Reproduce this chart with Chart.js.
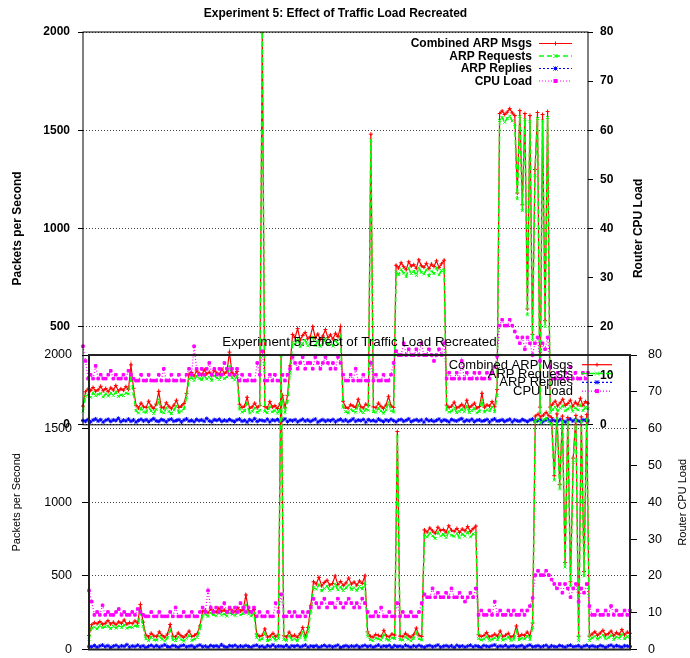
<!DOCTYPE html>
<html>
<head>
<meta charset="utf-8">
<script src="https://cdn.jsdelivr.net/npm/chart.js@4.4.1/dist/chart.umd.min.js"></script>
<style>
    html, body { margin: 0; padding: 0; background: #fff; width: 690px; height: 658px; overflow: hidden; }
    #wrap { position: relative; width: 690px; height: 658px; overflow: hidden; }
    #topChart { position: absolute; left: 0; top: 0; }
    /* second copy of the plot, laid over the lower part of the first */
    #lowChart { position: absolute; left: 0; top: 328px; }
</style>
</head>
<body>
<div id="wrap">
    <canvas id="topChart" width="690" height="440"></canvas>
    <canvas id="lowChart" width="690" height="340"></canvas>
</div>
<script>
const seriesNames = ['Combined ARP Msgs', 'ARP Requests', 'ARP Replies', 'CPU Load'];
const seriesColors = ['#ff0000', '#00ff00', '#0000ff', '#ff00ff'];

// packets per second, one value per sample
const combined = [
    95,
    168, 182, 175, 190, 171, 178, 196, 173, 185, 169, 188, 177, 200, 172, 183, 176, 194, 180, 305, 186,
    98, 85, 110, 92, 88, 120, 95, 83, 105, 170, 90, 86, 112, 94, 82, 100, 125, 88, 96, 108, 160,
    258, 266, 249, 275, 262, 254, 280, 259, 268, 251, 277, 263, 256, 284, 261, 270, 370, 265, 252, 272,
    105, 88, 96, 140, 84, 92, 110, 87, 99, 2000, 93, 85, 118, 90, 97, 83, 106, 150, 89, 150, 300,
    460, 445, 490, 432, 455, 470, 438, 448, 500, 441, 462, 435, 452, 485, 444, 458, 437, 466, 449, 500,
    120, 90, 84, 102, 95, 88, 130, 92, 86, 105, 98, 1480, 91, 87, 110, 94, 83, 100, 145, 96, 89,
    812, 798, 825, 805, 790, 830, 808, 815, 797, 840, 810, 802, 822, 795, 818, 806, 835, 800, 820, 838,
    100, 88, 95, 115, 86, 92, 104, 90, 125, 87, 97, 110, 85, 93, 160, 89, 101, 95, 118, 92, 180,
    1585, 1598, 1580, 1592, 1610, 1588, 1575,
    1180, 1600, 1120, 1585, 590, 1575, 460, 1300, 1590, 90, 1580, 530, 1595,
    90, 105, 120, 96, 112, 130, 98, 108, 125, 94, 115, 102, 135, 99, 118, 110
];

const requests = [
    70,
    145, 152, 140, 163, 148, 155, 160, 142, 158, 146, 161, 150, 166, 144, 153, 149, 162, 157, 250, 158,
    72, 60, 84, 66, 63, 90, 70, 58, 79, 130, 65, 61, 86, 68, 57, 75, 95, 62, 70, 82, 140,
    232, 240, 225, 248, 236, 229, 252, 233, 242, 226, 250, 238, 231, 256, 235, 244, 300, 240, 228, 246,
    80, 64, 72, 110, 60, 68, 85, 63, 74, 2000, 69, 61, 92, 66, 73, 59, 81, 120, 65, 120, 260,
    420, 410, 440, 398, 415, 430, 402, 412, 445, 405, 425, 400, 418, 438, 408, 420, 401, 428, 412, 450,
    90, 67, 60, 78, 71, 64, 100, 69, 62, 80, 74, 1450, 67, 63, 85, 70, 59, 76, 115, 72, 65,
    780, 765, 790, 772, 755, 795, 770, 782, 760, 800, 776, 768, 788, 758, 783, 770, 798, 764, 785, 790,
    75, 64, 70, 88, 62, 68, 80, 66, 96, 63, 72, 84, 61, 69, 125, 65, 77, 71, 90, 68, 150,
    1550, 1565, 1540, 1560, 1572, 1548, 1530,
    1150, 1570, 1090, 1555, 560, 1545, 430, 1270, 1560, 60, 1550, 500, 1565,
    62, 78, 90, 70, 84, 98, 72, 80, 95, 68, 86, 76, 102, 73, 88, 82
];

const replies = [
    22, 18, 27, 15, 24, 30, 19, 26, 14, 23, 28, 17, 25, 21, 33, 16, 24, 20, 29, 18,
    25, 14, 22, 28, 19, 26, 16, 24, 31, 20, 17, 27, 23, 15, 25, 29, 18, 22, 26, 14,
    24, 30, 19, 23, 16, 27, 21, 25, 18, 32, 20, 15, 26, 22, 28, 17, 24, 19, 27, 21,
    16, 25, 29, 18, 23, 14, 26, 20, 31, 17, 24, 22, 19, 28, 15, 25, 21, 27, 18, 23,
    30, 16, 24, 20, 26, 15, 22, 28, 19, 25, 17, 23, 29, 14, 21, 26, 18, 24, 20, 27,
    15, 23, 28, 19, 25, 16, 22, 30, 18, 24, 21, 27, 14, 26, 20, 23, 17, 29, 22, 16,
    25, 19, 28, 21, 15, 24, 27, 18, 23, 30, 16, 22, 26, 19, 25, 14, 28, 20, 24, 17,
    23, 29, 18, 25, 21, 15, 27, 22, 19, 26, 31, 17, 24, 20, 28, 16, 23, 25, 18, 22,
    27, 14, 24, 30, 19, 21, 26, 17, 23, 28, 15, 25, 20, 18, 27, 22, 16, 24, 29, 19,
    21, 26, 15, 23, 28, 18, 25, 20, 17, 27, 22, 14, 24, 29, 19, 26, 21, 16, 25, 23, 20
];

// router CPU load (right axis)
const cpuLoad = [
    16,
    13, 9.4, 10.2, 9.4, 12, 9.4, 10.2, 9.4, 9.4, 10.2, 11, 9.4, 10.2, 9.4, 9.4, 10.2, 9.4, 11, 10.2, 9.4,
    9, 9, 10.2, 9, 9, 10.2, 9, 9, 9, 10.2, 9, 11.4, 9, 9, 10.2, 9, 9, 10.2, 9, 9, 10.2,
    11.4, 10.2, 16, 11.4, 10.2, 11.4, 10.2, 11.4, 12.6, 10.2, 11.4, 10.2, 11.4, 10.2, 12.6, 11.4, 10.2, 11.4, 10.2, 11.4,
    9, 10.2, 9, 9, 10.2, 9, 9, 12.6, 10.2, 15, 9, 9, 10.2, 9, 10.2, 9, 9, 10.2, 9, 10.2, 11.4,
    13.8, 12.6, 11.4, 12.6, 13.8, 11.4, 12.6, 12.6, 11.4, 13.8, 12.6, 11.4, 12.6, 13.8, 12.6, 11.4, 12.6, 11.4, 13.8, 12.6,
    10.2, 9, 9, 10.2, 9, 11.4, 9, 9, 10.2, 9, 9, 12.6, 9, 10.2, 9, 9, 10.2, 9, 9, 10.2, 12.6,
    15, 14.2, 14.2, 16.6, 14.2, 15.4, 14.2, 14.2, 15.4, 14.2, 16.6, 14.2, 14.2, 15.4, 14.2, 13, 14.2, 15.4, 14.2, 16.6,
    9.4, 10.6, 9.4, 9.4, 10.6, 9.4, 13, 9.4, 10.6, 9.4, 9.4, 10.6, 9.4, 10.6, 9.4, 9.4, 10.6, 9.4, 10.6, 11.8, 14,
    20.2, 21.4, 20.2, 20.2, 21.4, 20.2, 19,
    17.8, 16.6, 17.8, 15.4, 17.8, 16.6, 14.2, 16.6, 17.8, 13, 16.6, 15.4, 17.8,
    11.8, 9.4, 9.4, 10.6, 9.4, 9.4, 10.6, 9.4, 11.8, 9.4, 10.6, 9.4, 9.4, 10.6, 9.4, 10.6
];

const steps = combined.map((_, i) => i);
const FAMILY = '"Liberation Sans", Arial, Helvetica, sans-serif';

function makeDatasets(lw) {
    const values = [combined, requests, replies, cpuLoad];
    const dashes = [[], [5, 3], [2, 2], [1, 2]];
    const widths = [lw, lw + 0.4, lw, lw];
    const marks = ['cross', 'crossRot', 'star', 'rect'];
    return values.map((v, i) => ({
        label: seriesNames[i],
        data: v,
        yAxisID: i === 3 ? 'y2' : 'y',
        borderColor: seriesColors[i],
        backgroundColor: seriesColors[i],
        borderWidth: widths[i],
        borderDash: dashes[i],
        pointStyle: marks[i],
        pointRadius: i === 3 ? 1.8 : 2,
        pointBorderWidth: 1,
        pointBorderColor: seriesColors[i],
        pointBackgroundColor: seriesColors[i],
        tension: 0,
        fill: false,
        order: 4 - i   // green over red, magenta on top, like gnuplot
    }));
}

function axes(o) {
    const font = { family: FAMILY, size: o.size, weight: o.weight };
    return {
        x: { display: false },
        y: {
            min: 0, max: 2000,
            ticks: { stepSize: 500, color: '#000', font, padding: o.padL, callback: v => String(v) },
            grid: { color: '#444', tickColor: '#000', tickLength: o.tick, tickBorderDash: [] },
            border: { display: false, dash: [1, 2] },
            afterFit: s => { s.width = o.left; }
        },
        y2: {
            position: 'right',
            min: 0, max: 80,
            ticks: { stepSize: 10, color: '#000', font, padding: o.padR, callback: v => String(v) },
            grid: { drawOnChartArea: false, color: '#000', tickLength: o.tick },
            border: { display: false },
            afterFit: s => { s.width = o.right; }
        }
    };
}

function mark(ctx, style, x, y, r) {
    if (style === 'rect') { ctx.fillRect(x - r, y - r, 2 * r, 2 * r); return; }
    ctx.beginPath();
    if (style === 'cross' || style === 'star') {
        ctx.moveTo(x - r, y); ctx.lineTo(x + r, y);
        ctx.moveTo(x, y - r); ctx.lineTo(x, y + r);
    }
    if (style === 'crossRot' || style === 'star') {
        ctx.moveTo(x - r, y - r); ctx.lineTo(x + r, y + r);
        ctx.moveTo(x - r, y + r); ctx.lineTo(x + r, y - r);
    }
    ctx.stroke();
}

// frame, title, axis titles and gnuplot-style key
function decor(o) {
    return {
        id: 'decor',
        afterDatasetsDraw(chart) {
            const { ctx, chartArea: a } = chart;
            ctx.save();
            ctx.strokeStyle = o.frameColor;
            ctx.lineWidth = o.frameWidth;
            ctx.strokeRect(a.left, a.top, a.right - a.left, a.bottom - a.top);
            ctx.restore();
        },
        afterDraw(chart) {
            const { ctx, chartArea: a } = chart;
            ctx.save();
            ctx.fillStyle = '#000';
            ctx.textAlign = 'center';
            ctx.textBaseline = 'alphabetic';
            ctx.font = o.titleFont;
            ctx.fillText('Experiment 5: Effect of Traffic Load Recreated', (a.left + a.right) / 2, o.titleY);

            ctx.font = o.axisFont;
            const midY = (a.top + a.bottom) / 2;
            [[o.leftTitleX, 'Packets per Second'], [o.rightTitleX, 'Router CPU Load']].forEach(([x, t]) => {
                ctx.save();
                ctx.translate(x, midY);
                ctx.rotate(-Math.PI / 2);
                ctx.textBaseline = 'middle';
                ctx.fillText(t, 0, 0);
                ctx.restore();
            });

            ctx.font = o.keyFont;
            ctx.textAlign = 'right';
            chart.data.datasets.forEach((ds, i) => {
                const y = o.keyY + i * o.keyStep;
                ctx.fillStyle = '#000';
                ctx.fillText(ds.label, o.keyTextX, y);
                const ly = y - o.keyLift;
                ctx.strokeStyle = ds.borderColor;
                ctx.fillStyle = ds.borderColor;
                ctx.lineWidth = ds.borderWidth;
                ctx.setLineDash(ds.borderDash);
                ctx.beginPath();
                ctx.moveTo(o.keyX0, ly);
                ctx.lineTo(o.keyX1, ly);
                ctx.stroke();
                ctx.setLineDash([]);
                ctx.lineWidth = 1;
                mark(ctx, ds.pointStyle, (o.keyX0 + o.keyX1) / 2, ly, 2);
            });
            ctx.restore();
        }
    };
}

function build(id, o) {
    return new Chart(document.getElementById(id), {
        type: 'line',
        data: { labels: steps, datasets: makeDatasets(o.lw) },
        options: {
            responsive: false,
            animation: false,
            events: [],
            layout: { padding: { top: o.padTop, bottom: o.padBottom, left: 0, right: 0 } },
            plugins: { legend: { display: false }, title: { display: false }, tooltip: { enabled: false } },
            scales: axes(o)
        },
        plugins: [decor(o)]
    });
}

// original plot (bold text)
build('topChart', {
    lw: 1.2, size: 12, weight: 'bold', left: 83, right: 102, tick: 5, padL: 8, padR: 7,
    padTop: 32, padBottom: 13,
    frameColor: '#000', frameWidth: 1,
    titleFont: 'bold 12px ' + FAMILY, axisFont: 'bold 12px ' + FAMILY, keyFont: 'bold 12px ' + FAMILY,
    titleY: 17, leftTitleX: 18, rightTitleX: 639,
    keyY: 47, keyStep: 12.5, keyLift: 3.5, keyTextX: 532, keyX0: 539, keyX1: 572
});

// recreated plot drawn over it (regular text)
build('lowChart', {
    lw: 1.2, size: 12.5, weight: 'normal', left: 89, right: 60, tick: 7, padL: 10, padR: 11,
    padTop: 27, padBottom: 13,
    frameColor: '#222', frameWidth: 2,
    titleFont: '13.4px ' + FAMILY, axisFont: '11px ' + FAMILY, keyFont: '13px ' + FAMILY,
    titleY: 17.7, leftTitleX: 17, rightTitleX: 683,
    keyY: 40.7, keyStep: 8.8, keyLift: 4, keyTextX: 573, keyX0: 582, keyX1: 612
});
</script>
</body>
</html>
